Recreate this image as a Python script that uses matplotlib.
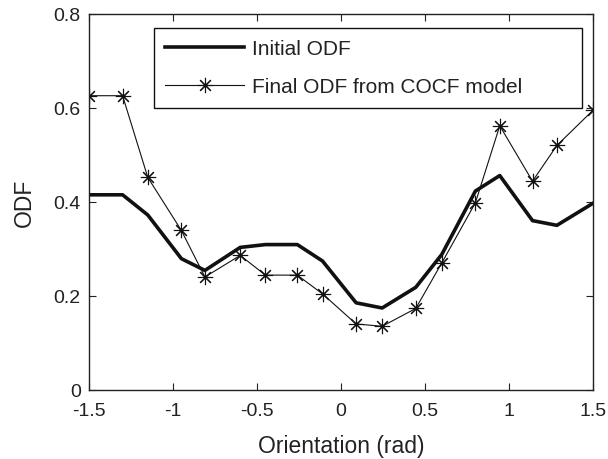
import matplotlib.pyplot as plt
from matplotlib.ticker import FixedLocator

# orientation samples (rad)
orient = [-1.5, -1.3, -1.15, -0.95, -0.81, -0.6, -0.45, -0.26, -0.11,
          0.09, 0.245, 0.445, 0.6, 0.8, 0.945, 1.14, 1.285, 1.5]
# ODF values
odf_initial = [0.415, 0.415, 0.372, 0.279, 0.254, 0.303, 0.309, 0.309, 0.274,
               0.185, 0.174, 0.218, 0.288, 0.423, 0.456, 0.36, 0.35, 0.397]
odf_final = [0.626, 0.626, 0.452, 0.339, 0.240, 0.286, 0.244, 0.244, 0.204,
             0.140, 0.135, 0.173, 0.270, 0.398, 0.562, 0.444, 0.520, 0.595]

xticks = [-1.5, -1, -0.5, 0, 0.5, 1, 1.5]
xticklabels = ['-1.5', '-1', '-0.5', '0', '0.5', '1', '1.5']
yticks = [0, 0.2, 0.4, 0.6, 0.8]
yticklabels = ['0', '0.2', '0.4', '0.6', '0.8']

plt.rcParams['font.family'] = ['Liberation Sans', 'DejaVu Sans']
txt = '#222222'

fig = plt.figure(figsize=(6.08, 4.6), dpi=100)
ax = fig.add_axes([89/608, 69.3/460, 504/608, 375.7/460])

ax.plot(orient, odf_initial, color='#111111', lw=2.6, label='Initial ODF')
ax.plot(orient, odf_final, color='#111111', lw=0.8, marker=(8, 2, 0),
        markersize=11, markeredgewidth=0.8, label='Final ODF from COCF model')

ax.set_xlim(-1.5, 1.5)
ax.set_ylim(0, 0.8)
ax.xaxis.set_major_locator(FixedLocator(xticks))
ax.set_xticklabels(xticklabels)
ax.yaxis.set_major_locator(FixedLocator(yticks))
ax.set_yticklabels(yticklabels)
ax.tick_params(axis='both', direction='in', length=5, width=0.8,
               top=True, right=True, labelsize=14, colors=txt)
ax.tick_params(axis='x', pad=9)
ax.tick_params(axis='y', pad=6)
for s in ax.spines.values():
    s.set_linewidth(1.0)
    s.set_color('#222222')

ax.set_xlabel('Orientation (rad)', fontsize=16.5, color=txt, labelpad=11)
ax.set_ylabel('ODF', fontsize=16.5, color=txt, labelpad=12.5)

# legend box stretched wider than its text, like the original
leg = ax.legend(loc='upper left', bbox_to_anchor=(0.129, 0.963, 0.849, 0),
                mode='expand', borderaxespad=0, fontsize=15, handlelength=3.75,
                handletextpad=0.4, labelspacing=0.9, borderpad=0.55,
                fancybox=False, framealpha=1, edgecolor='#111111')
leg.get_frame().set_linewidth(1.0)
for t in leg.get_texts():
    t.set_color(txt)

plt.savefig('out.png', dpi=100)
